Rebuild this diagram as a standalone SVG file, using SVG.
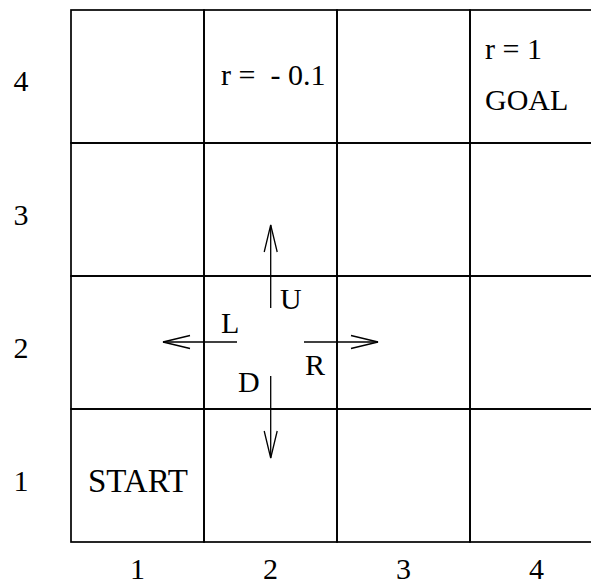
<svg xmlns="http://www.w3.org/2000/svg" width="591" height="586" viewBox="0 0 591 586">
<style>
.cell{fill:none;stroke:#000;stroke-width:1.7}
.t{font-family:'Liberation Serif','DejaVu Serif',serif;font-size:30px;fill:#000}
.c{text-anchor:middle}
.arr{fill:none;stroke:#000;stroke-width:1.3}
</style>
<defs>
<marker id="vhead" markerUnits="userSpaceOnUse" viewBox="-30 -10 32 20" markerWidth="32" markerHeight="20" refX="0" refY="0" orient="auto">
<path d="M-27,-6.5 L0,0 L-27,6.5" fill="none" stroke="#000" stroke-width="1.3"/>
</marker>
</defs>
<rect width="591" height="586" fill="#fff"/>
<g id="grid">
<g id="cell-1-4"><rect class="cell" x="71" y="10" width="133" height="133"/></g>
<g id="cell-2-4"><rect class="cell" x="204" y="10" width="133" height="133"/><text class="t" x="221" y="85" style="white-space:pre" xml:space="preserve">r =  - 0.1</text></g>
<g id="cell-3-4"><rect class="cell" x="337" y="10" width="133" height="133"/></g>
<g id="cell-4-4"><rect class="cell" x="470" y="10" width="133" height="133"/><text class="t" x="485" y="59">r = 1</text><text class="t" x="485" y="110">GOAL</text></g>
<g id="cell-1-3"><rect class="cell" x="71" y="143" width="133" height="133"/></g>
<g id="cell-2-3"><rect class="cell" x="204" y="143" width="133" height="133"/></g>
<g id="cell-3-3"><rect class="cell" x="337" y="143" width="133" height="133"/></g>
<g id="cell-4-3"><rect class="cell" x="470" y="143" width="133" height="133"/></g>
<g id="cell-1-2"><rect class="cell" x="71" y="276" width="133" height="133"/></g>
<g id="cell-2-2"><rect class="cell" x="204" y="276" width="133" height="133"/></g>
<g id="cell-3-2"><rect class="cell" x="337" y="276" width="133" height="133"/></g>
<g id="cell-4-2"><rect class="cell" x="470" y="276" width="133" height="133"/></g>
<g id="cell-1-1"><rect class="cell" x="71" y="409" width="133" height="133"/><text class="t" x="88" y="492" style="font-size:33px">START</text></g>
<g id="cell-2-1"><rect class="cell" x="204" y="409" width="133" height="133"/></g>
<g id="cell-3-1"><rect class="cell" x="337" y="409" width="133" height="133"/></g>
<g id="cell-4-1"><rect class="cell" x="470" y="409" width="133" height="133"/></g>
</g>
<g id="connectors">
<line id="arrow-U" class="arr" x1="270.7" y1="308" x2="270.7" y2="225" marker-end="url(#vhead)"/>
<line id="arrow-D" class="arr" x1="270.7" y1="376" x2="270.7" y2="458" marker-end="url(#vhead)"/>
<line id="arrow-L" class="arr" x1="237" y1="342" x2="163" y2="342" marker-end="url(#vhead)"/>
<line id="arrow-R" class="arr" x1="304" y1="342" x2="378" y2="342" marker-end="url(#vhead)"/>
</g>
<g id="action-labels">
<text class="t" x="280" y="309">U</text>
<text class="t" x="221" y="333">L</text>
<text class="t" x="305" y="375">R</text>
<text class="t" x="238" y="392">D</text>
</g>
<g id="axis-labels">
<text class="t c" x="21" y="91">4</text>
<text class="t c" x="21" y="225">3</text>
<text class="t c" x="21" y="358">2</text>
<text class="t c" x="21" y="491">1</text>
<text class="t c" x="137.5" y="579">1</text>
<text class="t c" x="270.5" y="579">2</text>
<text class="t c" x="403.5" y="579">3</text>
<text class="t c" x="536.5" y="579">4</text>
</g>
</svg>
